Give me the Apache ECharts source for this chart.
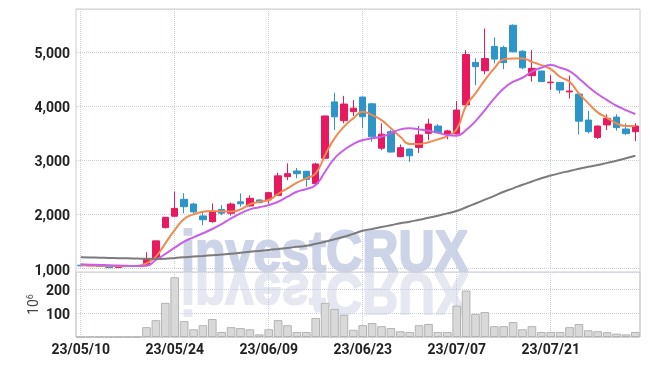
<!DOCTYPE html>
<html>
<head>
<meta charset="utf-8">
<script src="https://cdn.jsdelivr.net/npm/echarts@6/dist/echarts.min.js"></script>
<style>
  html, body { margin: 0; padding: 0; background: #fff; }
  #chart { width: 650px; height: 366px; }
</style>
</head>
<body>
<div id="chart"></div>
<script>
const dates = [
    '23/05/10', '23/05/11', '23/05/12', '23/05/15', '23/05/16', '23/05/17', '23/05/18', '23/05/19', '23/05/22', '23/05/23',
    '23/05/24', '23/05/25', '23/05/26', '23/05/30', '23/05/31', '23/06/01', '23/06/02', '23/06/05', '23/06/07', '23/06/08',
    '23/06/09', '23/06/12', '23/06/13', '23/06/14', '23/06/15', '23/06/16', '23/06/19', '23/06/20', '23/06/21', '23/06/22',
    '23/06/23', '23/06/26', '23/06/27', '23/06/28', '23/06/29', '23/06/30', '23/07/03', '23/07/04', '23/07/05', '23/07/06',
    '23/07/07', '23/07/10', '23/07/11', '23/07/12', '23/07/13', '23/07/14', '23/07/17', '23/07/18', '23/07/19', '23/07/20',
    '23/07/21', '23/07/24', '23/07/25', '23/07/26', '23/07/27', '23/07/28', '23/07/31', '23/08/01', '23/08/02', '23/08/03'
];

// [open, close, low, high]
const candles = [
    [1060, 1050, 1045, 1070], [1050, 1055, 1045, 1060], [1045, 1040, 1035, 1050], [1040, 1015, 1010, 1045], [1020, 1040, 1015, 1045],
    [1040, 1042, 1035, 1045], [1040, 1045, 1035, 1050], [1065, 1180, 1050, 1300], [1170, 1510, 1160, 1510], [1755, 1945, 1740, 1950],
    [1965, 2110, 1955, 2420], [2277, 2140, 2020, 2390], [2190, 2045, 2015, 2215], [1970, 1900, 1800, 2040], [1865, 2045, 1845, 2200],
    [2090, 2020, 1985, 2170], [2020, 2190, 1975, 2215], [2230, 2195, 2140, 2385], [2155, 2295, 2140, 2350], [2265, 2215, 2200, 2275],
    [2265, 2400, 2200, 2410], [2350, 2710, 2340, 2770], [2695, 2750, 2630, 2940], [2800, 2750, 2665, 2855], [2795, 2645, 2510, 2800],
    [2565, 2930, 2555, 2950], [3035, 3815, 3020, 3820], [4075, 3800, 3555, 4245], [3730, 4035, 3680, 4185], [3895, 3960, 3815, 4110],
    [4165, 3800, 3590, 4170], [4040, 3430, 3340, 4060], [3220, 3480, 3185, 3680], [3525, 3150, 3140, 3555], [3065, 3230, 3055, 3290],
    [3205, 3080, 2970, 3215], [3235, 3465, 3135, 3630], [3495, 3665, 3370, 3765], [3630, 3505, 3500, 3665], [3480, 3540, 3385, 3560],
    [3485, 3925, 3470, 4090], [4020, 4950, 3965, 5030], [4805, 4725, 4385, 4880], [4650, 4875, 4585, 5430], [5100, 4865, 4785, 5265],
    [5080, 4800, 4680, 5110], [5490, 5000, 4990, 5505], [5010, 4705, 4680, 5030], [4560, 4695, 4450, 5030], [4645, 4450, 4440, 4650],
    [4430, 4440, 4295, 4570], [4435, 4295, 4230, 4440], [4260, 4275, 4140, 4560], [4220, 3720, 3475, 4225], [3740, 3525, 3495, 3910],
    [3420, 3630, 3390, 3635], [3650, 3770, 3555, 3845], [3795, 3600, 3545, 3845], [3575, 3490, 3465, 3680], [3525, 3630, 3350, 3680]
];

const maShort = [
    1060, 1055, 1050, 1045, 1045, 1045, 1048, 1096, 1218, 1465,
    1710, 1913, 2000, 2048, 2061, 2055, 2050, 2092, 2185, 2232,
    2264, 2375, 2480, 2583, 2664, 2756, 3094, 3402, 3616, 3771,
    3893, 3832, 3740, 3587, 3432, 3297, 3297, 3330, 3384, 3445,
    3570, 4004, 4232, 4478, 4694, 4860, 4878, 4878, 4815, 4755,
    4681, 4539, 4447, 4232, 4048, 3882, 3782, 3679, 3629, 3629
];

const maMid = [
    1077, 1070, 1065, 1060, 1055, 1050, 1046, 1050, 1157, 1268,
    1384, 1495, 1576, 1650, 1729, 1821, 1926, 2018, 2092, 2129,
    2172, 2232, 2325, 2417, 2467, 2541, 2786, 3033, 3186, 3297,
    3371, 3402, 3432, 3494, 3568, 3587, 3568, 3543, 3506, 3463,
    3451, 3555, 3721, 3924, 4140, 4324, 4447, 4521, 4632, 4706,
    4755, 4706, 4644, 4509, 4355, 4220, 4109, 4004, 3924, 3851
];

const maLong = [
    1207, 1203, 1199, 1195, 1191, 1187, 1183, 1179, 1177, 1182,
    1195, 1208, 1220, 1232, 1245, 1258, 1272, 1290, 1308, 1325,
    1341, 1360, 1380, 1400, 1421, 1455, 1495, 1540, 1585, 1640,
    1697, 1730, 1765, 1800, 1835, 1864, 1900, 1935, 1975, 2018,
    2061, 2130, 2200, 2270, 2340, 2417, 2480, 2545, 2605, 2665,
    2715, 2760, 2800, 2840, 2878, 2910, 2950, 2990, 3035, 3081
];

// volume, millions
const volumes = [
    0, 0, 0, 0, 0, 0, 0, 41, 70, 142,
    248, 66, 32, 49, 75, 21, 41, 37, 32, 11,
    32, 70, 49, 21, 21, 79, 142, 117, 92, 30,
    49, 58, 45, 37, 24, 21, 49, 54, 21, 21,
    130, 193, 96, 104, 45, 45, 62, 32, 45, 21,
    21, 21, 41, 54, 28, 24, 20, 14, 11, 21
];

const priceTicks = { min: 1000, max: 5790, interval: 1000 };
const volumeTicks = { min: 0, max: 270, interval: 100 };

const UP_COLOR = '#e8195f';
const DOWN_COLOR = '#2e95c8';
const GRID_LINE = { show: true, lineStyle: { color: '#c9cde0', type: 'dotted', width: 1 } };
const LABEL_STYLE = {
    margin: 6,
    color: '#222',
    fontSize: 14,
    fontWeight: 'bold',
    fontFamily: 'Roboto, sans-serif'
};
// y labels sit a little under their grid line
const Y_LABEL_RICH = { v: { padding: [5, 0, 0, 0] } };

let chart = echarts.init(document.getElementById('chart'));

let option = {
    animation: false,
    backgroundColor: '#fff',
    graphic: [
        {
            type: 'rect',
            silent: true,
            z: 1,
            shape: { x: 76, y: 9, width: 564, height: 328 },
            style: { fill: 'none', stroke: '#cccccc', lineWidth: 1 }
        },
        {
            type: 'text',
            silent: true,
            z: -1,
            x: 181,
            y: 284,
            scaleX: 0.88,
            style: {
                text: 'investCRUX',
                fontSize: 57,
                fontWeight: 'bold',
                fontFamily: "'Liberation Sans', Arial, sans-serif",
                fill: '#cdd4e7',
                stroke: '#cdd4e7',
                lineWidth: 2,
                verticalAlign: 'bottom'
            }
        },
        {
            type: 'text',
            silent: true,
            z: -1,
            x: 181,
            y: 261,
            scaleX: 0.88,
            scaleY: -1,
            style: {
                text: 'investCRUX',
                fontSize: 57,
                fontWeight: 'bold',
                fontFamily: "'Liberation Sans', Arial, sans-serif",
                fill: '#e6e8f1',
                stroke: '#e6e8f1',
                lineWidth: 2,
                verticalAlign: 'bottom'
            }
        }
    ],
    grid: [
        { left: 76, right: 10, top: 9, height: 259.5 },
        { left: 76, right: 10, top: 272, height: 65, show: true, borderColor: '#cccccc', borderWidth: 1 }
    ],
    xAxis: [
        {
            type: 'category',
            gridIndex: 0,
            data: dates,
            boundaryGap: true,
            axisLine: { show: false },
            axisTick: { show: false },
            axisLabel: { show: false },
            splitLine: Object.assign({ interval: 9, alignWithLabel: true }, GRID_LINE)
        },
        {
            type: 'category',
            gridIndex: 1,
            data: dates,
            boundaryGap: true,
            axisLine: { show: false },
            axisTick: { show: false },
            axisLabel: Object.assign({ interval: 9 }, LABEL_STYLE),
            splitLine: Object.assign({ interval: 9, alignWithLabel: true }, GRID_LINE)
        }
    ],
    yAxis: [
        {
            type: 'value',
            gridIndex: 0,
            min: priceTicks.min,
            max: priceTicks.max,
            interval: priceTicks.interval,
            axisLine: { show: false },
            axisTick: { show: false },
            axisLabel: Object.assign({
                showMaxLabel: false,
                rich: Y_LABEL_RICH,
                formatter: function (v) { return '{v|' + v.toLocaleString('en-US') + '}'; }
            }, LABEL_STYLE),
            splitLine: GRID_LINE
        },
        {
            type: 'value',
            gridIndex: 1,
            min: volumeTicks.min,
            max: volumeTicks.max,
            interval: volumeTicks.interval,
            name: '{b|10}{s|6}',
            nameLocation: 'middle',
            nameRotate: 90,
            nameGap: 33,
            nameMoveOverlap: false,
            nameTextStyle: {
                rich: {
                    b: { fontSize: 14, color: '#444', fontFamily: 'Roboto' },
                    s: { fontSize: 9, color: '#444', fontFamily: 'Roboto', verticalAlign: 'top', padding: [0, 0, 8, 0] }
                }
            },
            axisLine: { show: false },
            axisTick: { show: false },
            axisLabel: Object.assign({
                showMinLabel: false,
                showMaxLabel: false,
                rich: Y_LABEL_RICH,
                formatter: function (v) { return '{v|' + v + '}'; }
            }, LABEL_STYLE),
            splitLine: GRID_LINE
        }
    ],
    series: [
        {
            name: 'price',
            type: 'candlestick',
            xAxisIndex: 0,
            yAxisIndex: 0,
            barWidth: 7,
            data: candles,
            itemStyle: {
                color: UP_COLOR,
                color0: DOWN_COLOR,
                borderColor: UP_COLOR,
                borderColor0: DOWN_COLOR,
                borderWidth: 1
            }
        },
        {
            name: 'MA short',
            type: 'line',
            xAxisIndex: 0,
            yAxisIndex: 0,
            data: maShort,
            smooth: true,
            showSymbol: false,
            lineStyle: { color: '#f08a4f', width: 2 }
        },
        {
            name: 'MA mid',
            type: 'line',
            xAxisIndex: 0,
            yAxisIndex: 0,
            data: maMid,
            smooth: true,
            showSymbol: false,
            lineStyle: { color: '#c95ee9', width: 2 }
        },
        {
            name: 'MA long',
            type: 'line',
            xAxisIndex: 0,
            yAxisIndex: 0,
            data: maLong,
            smooth: true,
            showSymbol: false,
            lineStyle: { color: '#7b7b7b', width: 2 }
        },
        {
            name: 'volume',
            type: 'bar',
            xAxisIndex: 1,
            yAxisIndex: 1,
            data: volumes,
            barCategoryGap: '8%',
            itemStyle: { color: '#d9d9d9', borderColor: '#b3b3b3', borderWidth: 1 }
        }
    ]
};

chart.setOption(option);
</script>
</body>
</html>
